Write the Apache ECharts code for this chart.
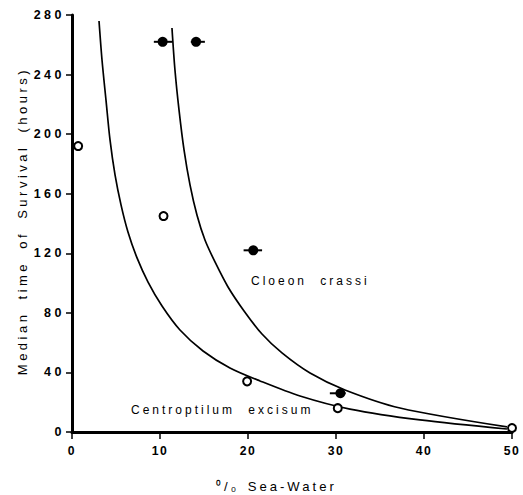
<!DOCTYPE html>
<html><head><meta charset="utf-8">
<script src="https://cdn.jsdelivr.net/npm/echarts@6/dist/echarts.min.js"></script>
<style>html,body{margin:0;padding:0;background:#fff}#c{width:523px;height:495px}</style>
</head><body><div id="c"></div>
<script>
// ---- data ----
const xTicks = [0, 10, 20, 30, 40, 50];
const yTicks = [0, 40, 80, 120, 160, 200, 240, 280];
const xTitle = '\u2070/\u2080 Sea-Water';
const yTitle = 'Median time of Survival (hours)';
const centroptilumName = 'Centroptilum excisum';
const cloeonName = 'Cloeon crassi';
// observed points (% sea-water, hours)
const centroptilumObs = [[0.7, 192], [10.4, 145], [19.9, 34], [30.2, 16], [50, 2.7]];
const cloeonObs = [[10.3, 262], [14.1, 262], [20.6, 122], [30.5, 26]];
// horizontal error range (low, high) for Cloeon points
const cloeonXErr = [[9.3, 11.4], [13.5, 15.1], [19.5, 21.6], [29.3, 31.1]];
// fitted curves
const centroptilumCurve = [[3.07, 276], [3.41, 249.8], [3.86, 223], [4.32, 196.1], [4.89, 172.6],
  [5.57, 152.5], [6.36, 134.3], [7.39, 116.9], [8.64, 100.7], [10.23, 84.6], [12.27, 68.5],
  [14.89, 54.4], [17.95, 43], [21.36, 34.3], [25.91, 24.2], [31.59, 15.4], [39.55, 8.1], [49.43, 2]];
const cloeonCurve = [[11.36, 271.3], [11.7, 243.1], [12.16, 216.3], [12.73, 189.4], [13.41, 165.9],
  [14.2, 145.7], [15.11, 128.9], [16.25, 114.2], [17.73, 97.4], [19.55, 81.3], [21.59, 65.8],
  [23.86, 53.1], [27.05, 39.6], [31.02, 28.2], [37.27, 16.1], [49.43, 3.4]];

const ink = '#000';
const fam = 'Liberation Sans, Arial, sans-serif';
const chart = echarts.init(document.getElementById('c'), null, {renderer: 'svg'});

chart.setOption({
  backgroundColor: '#fff',
  animation: false,
  grid: {left: 72, right: 11, top: 15, bottom: 63, containLabel: false},
  xAxis: {
    type: 'value', min: xTicks[0], max: xTicks[xTicks.length - 1], interval: xTicks[1] - xTicks[0],
    axisLine: {show: true, onZero: false, lineStyle: {color: ink, width: 3}},
    axisTick: {show: true, length: 7, lineStyle: {color: ink, width: 1.5}},
    splitLine: {show: false},
    axisLabel: {color: ink, fontSize: 12.2, fontWeight: 'bold', fontFamily: fam, margin: 13}
  },
  yAxis: {
    type: 'value', min: yTicks[0], max: yTicks[yTicks.length - 1], interval: yTicks[1] - yTicks[0],
    axisLine: {show: true, onZero: false, lineStyle: {color: ink, width: 3}},
    axisTick: {show: true, length: 6, lineStyle: {color: ink, width: 1.5}},
    splitLine: {show: false},
    axisLabel: {color: ink, fontSize: 12.5, fontWeight: 'bold', fontFamily: fam, margin: 7}
  },
  series: [
    {type: 'line', data: centroptilumCurve, showSymbol: false, smooth: 0.3, silent: true,
     lineStyle: {color: ink, width: 1.7}, z: 2},
    {type: 'line', data: cloeonCurve, showSymbol: false, smooth: 0.3, silent: true,
     lineStyle: {color: ink, width: 1.7}, z: 2},
    {type: 'custom', z: 3,
     data: cloeonXErr.map((e, i) => [e[0], e[1], cloeonObs[i][1]]),
     encode: {x: [0, 1], y: 2},
     renderItem: function (params, api) {
       const a = api.coord([api.value(0), api.value(2)]);
       const b = api.coord([api.value(1), api.value(2)]);
       return {type: 'line', shape: {x1: a[0], y1: a[1], x2: b[0], y2: b[1]}, style: {stroke: ink, lineWidth: 2}};
     }},
    {type: 'scatter', data: cloeonObs, symbol: 'circle', symbolSize: 10, z: 4,
     itemStyle: {color: ink, opacity: 1}},
    {type: 'scatter', data: centroptilumObs, symbol: 'circle', symbolSize: 8, z: 4,
     itemStyle: {color: '#fff', borderColor: ink, borderWidth: 2, opacity: 1}}
  ],
  graphic: [
    {type: 'text', x: 22, y: 221, rotation: Math.PI / 2,
     style: {text: yTitle, fill: ink, font: '13px ' + fam, textAlign: 'center', textVerticalAlign: 'middle'}},
    {type: 'text', x: 216, y: 486,
     style: {text: xTitle, fill: ink, font: '13.1px ' + fam, textAlign: 'left', textVerticalAlign: 'middle'}},
    {type: 'text', x: 251, y: 281,
     style: {text: cloeonName, fill: ink, font: '12px ' + fam, textAlign: 'left', textVerticalAlign: 'middle'}},
    {type: 'text', x: 131, y: 410,
     style: {text: centroptilumName, fill: ink, font: '12px ' + fam, textAlign: 'left', textVerticalAlign: 'middle'}}
  ]
});

function applySpacing() {
  document.querySelectorAll('#c svg text').forEach(function (t) {
    const cs = getComputedStyle(t);
    const fs = parseFloat(cs.fontSize);
    let ls = 0, ws = 0;
    if (Math.abs(fs - 13) < 0.05) { ls = 3.5; ws = 5; }
    else if (Math.abs(fs - 13.1) < 0.05) { ls = 3; ws = 2; }
    else if (Math.abs(fs - 12.5) < 0.05) { ls = 3.5; }
    else if (Math.abs(fs - 12.2) < 0.05) { ls = 1.5; }
    else if (Math.abs(fs - 12) < 0.05) { ls = 3; ws = 7; }
    t.setAttribute('letter-spacing', ls);
    t.setAttribute('word-spacing', ws);
  });
}
applySpacing();
chart.on('finished', applySpacing);
setTimeout(applySpacing, 50);
</script>
</body></html>
